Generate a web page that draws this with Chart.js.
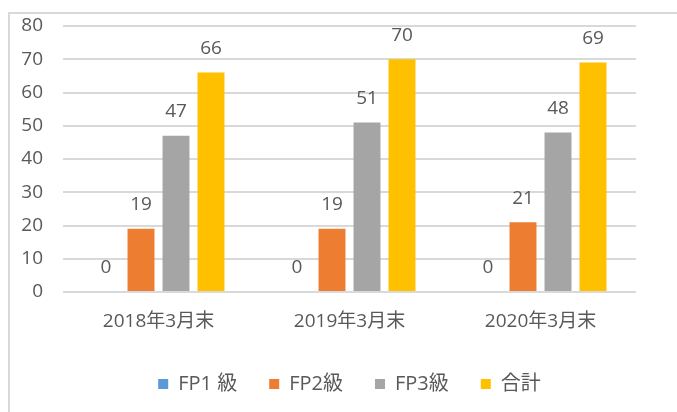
<!DOCTYPE html>
<html>
<head>
<meta charset="utf-8">
<script src="https://cdn.jsdelivr.net/npm/chart.js@4"></script>
<style>
  html, body { margin: 0; padding: 0; background: #fff; overflow: hidden; }
  #frame { position: absolute; left: 8px; top: 12px; width: 700px; height: 420px;
           border-left: 2px solid #d9d9d9; border-top: 2px solid #d9d9d9; }
  #wrap { position: absolute; left: 0; top: 0; width: 677px; height: 412px; }
</style>
</head>
<body>
<div id="frame"></div>
<div id="wrap"><canvas id="chart" width="677" height="412"></canvas></div>
<script>
// chart data
var categories = ["2018年3月末", "2019年3月末", "2020年3月末"];
var fp1 = [0, 0, 0];
var fp2 = [19, 19, 21];
var fp3 = [47, 51, 48];
var total = [66, 70, 69];
var yTicks = [0, 10, 20, 30, 40, 50, 60, 70, 80];

var textColor = "#595959";
var fontFamily = "'Open Sans', 'Noto Sans CJK JP', sans-serif";

// value labels above each bar
var barLabels = {
  id: "barLabels",
  afterDatasetsDraw: function (chart) {
    var ctx = chart.ctx;
    ctx.save();
    ctx.font = "19px " + fontFamily;
    ctx.fillStyle = textColor;
    ctx.textAlign = "center";
    ctx.textBaseline = "middle";
    chart.data.datasets.forEach(function (ds, i) {
      chart.getDatasetMeta(i).data.forEach(function (bar, j) {
        ctx.fillText(ds.data[j], bar.x, bar.y - 24);
      });
    });
    ctx.restore();
  }
};

var myChart = new Chart(document.getElementById("chart"), {
  type: "bar",
  data: {
    labels: categories,
    datasets: [
      { label: "FP1 級", data: fp1, backgroundColor: "#5B9BD5" },
      { label: "FP2級", data: fp2, backgroundColor: "#ED7D31" },
      { label: "FP3級", data: fp3, backgroundColor: "#A5A5A5" },
      { label: "合計", data: total, backgroundColor: "#FFC000" }
    ]
  },
  options: {
    responsive: false,
    animation: false,
    events: [],
    layout: { padding: { left: 0, right: 41, top: 26, bottom: 8 } },
    datasets: { bar: { categoryPercentage: 0.733, barPercentage: 0.77 } },
    plugins: {
      tooltip: { enabled: false },
      legend: {
        position: "bottom",
        fullSize: false,
        labels: {
          color: textColor,
          font: { family: fontFamily, size: 20 },
          boxWidth: 10,
          boxHeight: 10,
          padding: 32
        }
      }
    },
    scales: {
      x: {
        grid: { display: false, drawTicks: false },
        border: { display: false },
        ticks: { color: textColor, font: { family: fontFamily, size: 19 }, padding: 18 },
        afterFit: function (s) { s.height = 50; s.paddingLeft = 0; s.paddingRight = 0; }
      },
      y: {
        min: 0,
        max: 80,
        afterBuildTicks: function (s) { s.ticks = yTicks.map(function (v) { return { value: v }; }); },
        grid: { color: "#d9d9d9", lineWidth: 2, drawTicks: false },
        border: { display: false },
        ticks: { color: textColor, font: { family: fontFamily, size: 19 }, padding: 20 },
        afterFit: function (s) { s.width = 63; s.paddingTop = 0; s.paddingBottom = 0; }
      }
    }
  },
  plugins: [barLabels]
});
</script>
</body>
</html>
